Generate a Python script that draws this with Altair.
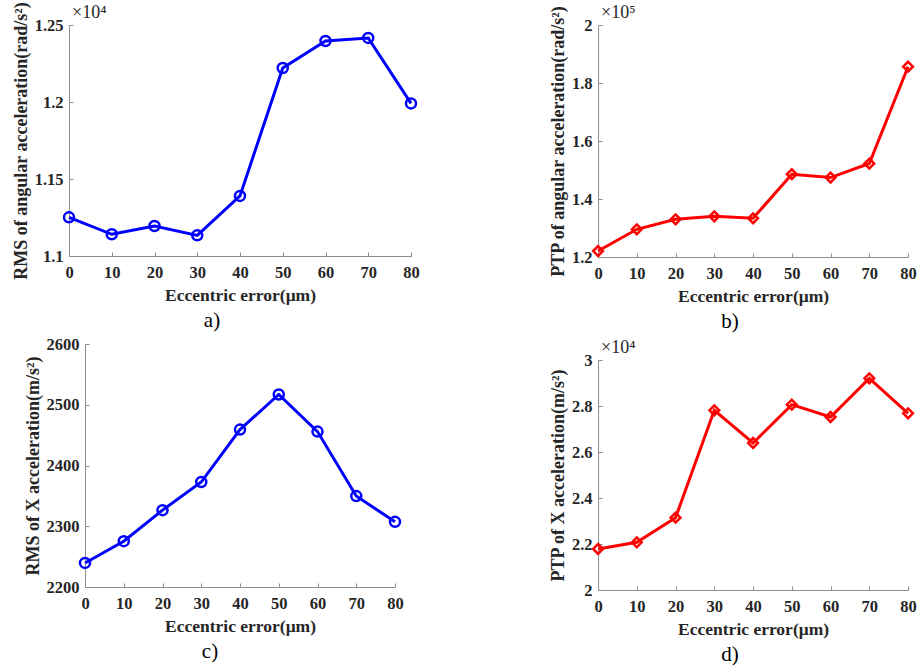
import altair as alt
import pandas as pd

ecc = [0, 10, 20, 30, 40, 50, 60, 70, 80]
rms_ang = [11251, 11141, 11195, 11134, 11390, 12221, 12396, 12416, 11991]
ptp_ang = [122070, 129550, 133010, 134040, 133350, 148550, 147400, 152230, 185610]
rms_x = [2239.6, 2275.4, 2326.5, 2372.8, 2459.1, 2516.9, 2455.8, 2349.7, 2307.3]
ptp_x = [21783, 22072, 23145, 27812, 26391, 28058, 27522, 29203, 27681]

FONT = "Liberation Serif"
AXC = "#8c8c8c"
TXT = "#262626"


def panel(values, ytitle, domain, ticks, scale_div, color, shape, w, h, tag, mult, dx):
    df = pd.DataFrame({"e": ecc, "v": values})
    if scale_div:
        lexpr = f"format(datum.value / {scale_div}, '~g')"
    else:
        lexpr = "format(datum.value, 'd')"
    xax = alt.Axis(values=ecc, title="Eccentric error(μm)", labelFont=FONT, titleFont=FONT,
                   labelFontWeight="bold", titleFontWeight="bold", labelFontSize=16.5,
                   titleFontSize=17.5, labelColor=TXT, titleColor=TXT, domainColor=AXC,
                   tickColor=AXC, tickSize=alt.ExprRef(expr="-4"), labelPadding=12,
                   titlePadding=6, grid=False, labelFlush=False)
    yax = alt.Axis(values=ticks, title=ytitle, labelExpr=lexpr, labelFont=FONT, titleFont=FONT,
                   labelFontWeight="bold", titleFontWeight="bold", labelFontSize=16.5,
                   titleFontSize=18, labelColor=TXT, titleColor=TXT, domainColor=AXC,
                   tickColor=AXC, tickSize=alt.ExprRef(expr="-4"), labelPadding=10,
                   titlePadding=4, grid=False, labelFlush=False)
    base = alt.Chart(df).encode(
        x=alt.X("e:Q", scale=alt.Scale(domain=[0, 80], nice=False), axis=xax),
        y=alt.Y("v:Q", scale=alt.Scale(domain=domain, nice=False, zero=False), axis=yax),
    )
    line = base.mark_line(color=color, strokeWidth=3)
    pts = base.mark_point(shape=shape, filled=False, color=color, strokeWidth=2.5,
                          size=100 if shape == "circle" else 95, opacity=1)
    layers = [line, pts]
    if mult:
        mdf = pd.DataFrame({"t": [mult]})
        layers.append(alt.Chart(mdf).mark_text(align="left", baseline="bottom", font=FONT,
                                               fontSize=18, color=TXT).encode(
            text="t:N", x=alt.value(3), y=alt.value(-3)))
    return alt.layer(*layers).properties(
        width=w, height=h,
        title=alt.TitleParams(tag, orient="bottom", anchor="middle", frame="group", font=FONT,
                              fontSize=21, fontWeight="normal", color="#000000", offset=6, dx=dx),
    )


a = panel(rms_ang, "RMS of angular acceleration(rad/s²)", [11000, 12500],
          [11000, 11500, 12000, 12500], 10000, "#0000ff", "circle", 342, 231, "a)", "×10⁴", -28)
b = panel(ptp_ang, "PTP of angular acceleration(rad/s²)", [120000, 200000],
          [120000, 140000, 160000, 180000, 200000], 100000, "#ff0000", "diamond", 310, 232, "b)", "×10⁵", -23)
c = panel(rms_x, "RMS of X acceleration(m/s²)", [2200, 2600],
          [2200, 2300, 2400, 2500, 2600], None, "#0000ff", "circle", 310, 243, "c)", None, -30)
d = panel(ptp_x, "PTP of X acceleration(m/s²)", [20000, 30000],
          [20000, 22000, 24000, 26000, 28000, 30000], 10000, "#ff0000", "diamond", 310, 230, "d)", "×10⁴", -23)

chart = alt.hconcat(
    alt.vconcat(a, c, center=True, spacing=5),
    alt.vconcat(b, d, center=True, spacing=7),
    spacing=128,
).properties(
    padding={"left": 12, "top": 1, "right": 0, "bottom": 0},
    background="white",
).configure_view(stroke=None)

chart.save("out.html", embed_options={"renderer": "svg", "actions": False})
